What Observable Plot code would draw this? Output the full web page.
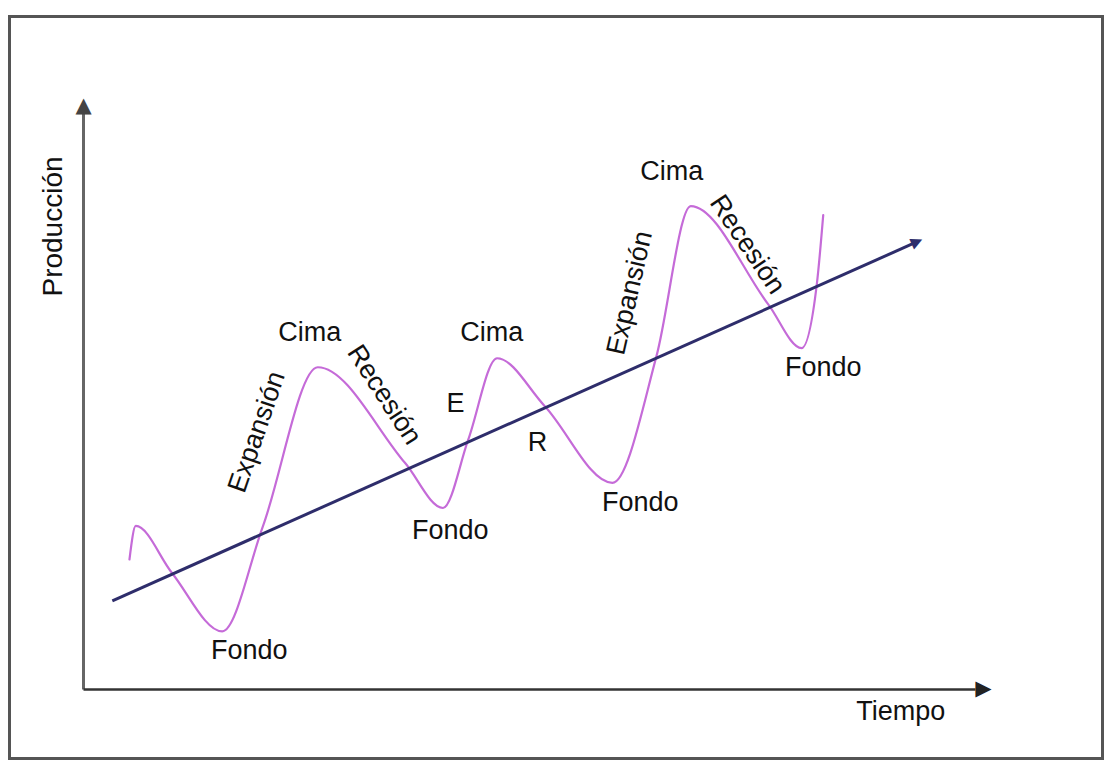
<!DOCTYPE html>
<html><head><meta charset="utf-8">
<script src="https://cdn.jsdelivr.net/npm/d3@7"></script>
<script src="https://cdn.jsdelivr.net/npm/@observablehq/plot@0.6"></script>
<style>
body{margin:0;background:#fff;}
#frame{position:absolute;left:8px;top:15px;width:1090px;height:739px;border:3px solid #555;}
#chart{position:absolute;left:0;top:0;}
</style></head><body>
<div id="chart"></div><div id="frame"></div>
<script>
// Ciclo económico: onda de producción (tiempo, producción)
const cicloTiempo = [5.1, 5.8, 9.8, 15.4, 19.9, 26.0, 35.7, 39.9, 42.7, 45.9, 51.2, 58.7, 63.6, 67.4, 76.0, 79.7, 81.4, 82.1];
const cicloProduccion = [21.7, 27.3, 19.5, 9.7, 27.2, 53.8, 37.8, 30.3, 41.7, 55.3, 47.3, 34.5, 55.7, 80.7, 64.3, 57.0, 67.8, 79.2];

// Línea de tendencia
const tendenciaTiempo = [3.2, 92.6];
const tendenciaProduccion = [14.8, 74.8];

// Etiquetas horizontales
const etiquetas = ["Cima", "Cima", "Cima", "Fondo", "Fondo", "Fondo", "Fondo", "E", "R"];
const etiquetaTiempo = [25.1, 45.3, 65.3, 18.4, 40.7, 61.8, 82.1, 41.3, 50.4];
const etiquetaProduccion = [59.7, 59.7, 86.5, 6.5, 26.5, 31.3, 53.7, 47.7, 41.3];

// Etiquetas de fase (giradas)
const fases = ["Expansión", "Recesión", "Expansión", "Recesión"];
const faseTiempo = [19.2, 33.4, 60.6, 73.7];
const faseProduccion = [43.0, 49.2, 66.2, 74.3];
const faseAngulo = [-71, 57, -77, 56];

// Ejes
const ejeX = {label: "Tiempo", fin: 100.0};
const ejeY = {label: "Producción", fin: 97.6};

const W = 1107, H = 762;
const mL = 83, mR = 123, mT = 90, mB = 73;
const xDom = [0, 100], yDom = [0, 100];
const sx = Plot.scale({x: {domain: xDom, range: [mL, W - mR]}});
const sy = Plot.scale({y: {domain: yDom, range: [H - mB, mT]}});

const ciclo = cicloTiempo.map((t, i) => ({t, p: cicloProduccion[i]}));
const labels = etiquetas.map((s, i) => ({s, t: etiquetaTiempo[i], p: etiquetaProduccion[i]}));
const fasesData = fases.map((s, i) => ({s, t: faseTiempo[i], p: faseProduccion[i], a: faseAngulo[i]}));

const trendAngle = Math.atan2(
  sx.apply(tendenciaTiempo[1]) - sx.apply(tendenciaTiempo[0]),
  sy.apply(tendenciaProduccion[0]) - sy.apply(tendenciaProduccion[1])
) * 180 / Math.PI;

const axisHeads = [
  {t: 0, p: ejeY.fin, a: 0, c: "#444"},
  {t: ejeX.fin, p: 0, a: 90, c: "#222"}
];
const trendHead = [{t: tendenciaTiempo[1], p: tendenciaProduccion[1], a: trendAngle, c: "#2e2d6b"}];

const font = "Liberation Sans, Arial, sans-serif";

const plot = Plot.plot({
  width: W, height: H,
  marginLeft: mL, marginRight: mR, marginTop: mT, marginBottom: mB,
  x: {domain: xDom, axis: null},
  y: {domain: yDom, axis: null},
  style: {background: "transparent", fontFamily: font},
  marks: [
    Plot.link([{x1: 0, y1: 0, x2: 0, y2: ejeY.fin - 1.5}], {x1: "x1", y1: "y1", x2: "x2", y2: "y2", stroke: "#666", strokeWidth: 3}),
    Plot.link([{x1: 0, y1: 0, x2: ejeX.fin - 1, y2: 0}], {x1: "x1", y1: "y1", x2: "x2", y2: "y2", stroke: "#333", strokeWidth: 2.5}),
    Plot.line(ciclo, {x: "t", y: "p", curve: "monotone-x", stroke: "#c56bd8", strokeWidth: 2.2}),
    Plot.link([{x1: tendenciaTiempo[0], y1: tendenciaProduccion[0], x2: tendenciaTiempo[1], y2: tendenciaProduccion[1]}],
      {x1: "x1", y1: "y1", x2: "x2", y2: "y2", stroke: "#2e2d6b", strokeWidth: 3}),
    Plot.text(axisHeads, {x: "t", y: "p", text: () => "▲", rotate: "a", fill: "c", fontSize: 21, fontFamily: "DejaVu Sans"}),
    Plot.text(trendHead, {x: "t", y: "p", text: () => "▲", rotate: "a", fill: "c", fontSize: 15, fontFamily: "DejaVu Sans"}),
    Plot.text(labels, {x: "t", y: "p", text: "s", fontSize: 27, fill: "#111"}),
    Plot.text(fasesData, {x: "t", y: "p", text: "s", rotate: "a", fontSize: 27, fill: "#111"}),
    Plot.text([ejeY], {x: () => -3.4, y: () => 77.3, text: "label", rotate: -90, fontSize: 28, fill: "#111"}),
    Plot.text([ejeX], {x: () => 90.7, y: () => -3.7, text: "label", fontSize: 27, fill: "#111"})
  ]
});
document.getElementById("chart").appendChild(plot);
</script></body></html>
